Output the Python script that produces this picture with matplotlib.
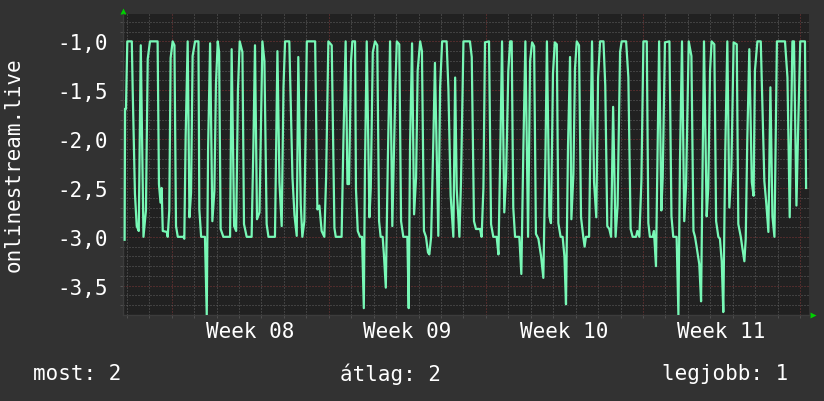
import matplotlib
matplotlib.use('Agg')
import matplotlib.pyplot as plt
import numpy as np

# rank history (shown negated), x = days since monday of week 08
days_a = [-2.10, -2.08, -2.04, -1.98, -1.78, -1.74, -1.64, -1.56, -1.47, -1.38,
          -1.26, -1.15, -1.07, -0.97, -0.63, -0.57, -0.50, -0.45, -0.40, -0.22,
          -0.18, -0.11, -0.05, 0.04, 0.12, 0.19, 0.27, 0.52, 0.56, 0.62,
          0.71, 0.79, 0.86, 0.93, 1.04, 1.19, 1.23, 1.31, 1.48, 1.56,
          1.62, 1.71, 1.81, 1.90, 1.97, 2.05, 2.11, 2.18, 2.30, 2.60,
          2.67, 2.78, 2.87, 2.95]
rank_a = [-3.03, -1.69, -1.69, -1.0, -1.0, -1.5, -2.56, -2.89, -2.94, -1.04,
          -3.0, -2.73, -1.18, -1.0, -1.0, -2.46, -2.65, -2.5, -2.94, -2.95,
          -3.0, -2.73, -1.17, -1.0, -1.04, -2.89, -3.0, -3.0, -3.02, -1.97,
          -1.0, -2.8, -2.55, -1.15, -1.0, -1.0, -2.72, -3.0, -3.0, -3.8,
          -2.1, -1.02, -2.84, -2.53, -1.44, -1.0, -1.11, -2.92, -3.0, -3.0,
          -1.08, -2.89, -2.94, -1.5]

days_b = [3.03, 3.15, 3.22, 3.34, 3.56, 3.64, 3.71, 3.80, 3.91, 4.04,
          4.13, 4.23, 4.31, 4.60, 4.71, 4.80, 4.90, 4.98, 5.05, 5.24,
          5.38, 5.47, 5.57, 5.64, 5.75, 5.82, 5.91, 6.02, 6.39, 6.49,
          6.58, 6.68, 6.80, 6.88, 6.98, 7.13, 7.25, 7.31, 7.57, 7.65,
          7.75, 7.83, 7.90, 7.99, 8.05]
rank_b = [-1.0, -1.11, -2.87, -3.0, -3.0, -2.05, -1.04, -2.82, -2.75, -1.0,
          -1.2, -2.87, -3.0, -3.0, -1.1, -2.44, -2.89, -1.47, -1.0, -1.0,
          -2.39, -2.78, -2.99, -1.16, -2.67, -3.0, -2.84, -1.0, -1.0, -2.72,
          -2.68, -2.94, -3.0, -2.39, -1.0, -1.04, -2.91, -3.0, -3.0, -2.02,
          -1.0, -2.46, -2.46, -1.2, -1.0]

days_c = [8.17, 8.21, 8.29, 8.39, 8.48, 8.56, 8.61, 8.69, 8.81, 8.87,
          8.96, 9.06, 9.16, 9.24, 9.31, 9.40, 9.46, 9.54, 9.63, 9.73,
          9.83, 9.97, 10.03, 10.14, 10.22, 10.32, 10.50, 10.56, 10.62, 10.71,
          10.80, 10.89, 10.96, 11.07, 11.15, 11.24, 11.33, 11.42, 11.48, 11.56,
          11.66, 11.73, 11.88, 11.96, 12.05, 12.25, 12.33, 12.43, 12.55, 12.63,
          12.70, 12.82, 12.89, 13.00]
rank_c = [-1.0, -2.51, -2.94, -3.0, -3.0, -3.73, -2.31, -1.0, -2.8, -2.5,
          -1.11, -1.0, -1.04, -2.84, -3.0, -3.0, -3.2, -3.52, -2.22, -1.0,
          -2.89, -1.44, -1.0, -1.03, -2.84, -3.0, -3.0, -3.73, -2.07, -1.02,
          -2.77, -2.39, -1.3, -1.0, -1.1, -2.94, -3.0, -3.16, -3.18, -3.0,
          -2.0, -1.22, -2.99, -1.47, -1.0, -1.0, -1.49, -2.58, -3.0, -1.37,
          -2.51, -3.0, -2.44, -1.0]

days_d = [13.29, 13.37, 13.47, 13.56, 13.74, 13.81, 13.89, 13.96, 14.14, 14.23,
          14.33, 14.48, 14.56, 14.65, 14.72, 14.82, 14.90, 15.00, 15.08, 15.15,
          15.22, 15.30, 15.49, 15.58, 15.67, 15.76, 15.88, 15.97, 16.06, 16.15,
          16.23, 16.34, 16.46, 16.56, 16.65, 16.72, 16.83, 16.90, 16.99, 17.07,
          17.16, 17.23, 17.33, 17.42, 17.50, 17.57, 17.66, 17.75, 17.81, 17.90,
          17.97, 18.05, 18.15, 18.24, 18.34]
rank_d = [-1.0, -1.16, -2.84, -2.92, -2.92, -3.0, -2.5, -1.01, -1.0, -2.87,
          -3.0, -3.0, -3.18, -2.02, -1.0, -2.75, -2.39, -1.3, -1.0, -1.0,
          -2.7, -3.0, -3.0, -3.38, -2.1, -1.0, -3.0, -1.2, -1.01, -1.05,
          -2.97, -3.02, -3.2, -3.42, -2.24, -1.0, -2.79, -2.86, -1.33, -1.01,
          -1.03, -2.86, -3.0, -3.0, -3.2, -3.69, -2.07, -1.16, -2.82, -2.36,
          -1.28, -1.0, -1.04, -2.8, -3.0]

days_e = [18.40, 18.46, 18.60, 18.66, 18.73, 18.82, 18.92, 19.00, 19.09, 19.24,
          19.32, 19.41, 19.50, 19.58, 19.67, 19.78, 19.87, 19.98, 20.05, 20.25,
          20.35, 20.45, 20.54, 20.69, 20.75, 20.84, 20.93, 21.02, 21.17, 21.24,
          21.31, 21.43, 21.49, 21.58, 21.72, 21.82, 21.88, 21.98, 22.18, 22.27,
          22.35, 22.50, 22.58, 22.65, 22.74, 22.84, 22.92, 23.04, 23.16, 23.25,
          23.32, 23.39, 23.51]
rank_e = [-3.1, -3.0, -3.0, -2.0, -1.0, -2.44, -2.8, -1.37, -1.0, -1.0,
          -1.45, -2.89, -2.92, -3.0, -1.67, -3.0, -2.68, -1.11, -1.0, -1.0,
          -1.37, -2.92, -3.0, -3.0, -2.94, -3.0, -2.43, -1.0, -1.0, -2.86,
          -3.0, -3.0, -2.94, -3.3, -1.0, -2.73, -2.39, -1.01, -1.0, -2.79,
          -3.0, -3.0, -3.8, -2.22, -1.0, -2.84, -2.48, -1.0, -1.15, -2.94,
          -3.0, -3.1, -3.28]

days_f = [23.59, 23.72, 23.84, 23.91, 23.99, 24.06, 24.18, 24.26, 24.36, 24.43,
          24.51, 24.58, 24.67, 24.76, 24.85, 24.94, 25.04, 25.18, 25.25, 25.36,
          25.44, 25.52, 25.58, 25.65, 25.74, 25.85, 25.93, 25.99, 26.10, 26.25,
          26.34, 26.41, 26.50, 26.59, 26.68, 26.77, 26.86, 26.97, 27.33, 27.44,
          27.54, 27.66, 27.73, 27.84, 27.93, 28.01, 28.22, 28.27]
rank_f = [-3.66, -1.0, -2.79, -2.5, -1.3, -1.0, -1.03, -2.84, -3.0, -3.02,
          -3.25, -3.77, -2.1, -1.0, -2.7, -2.31, -1.01, -1.03, -2.87, -3.0,
          -3.13, -3.25, -3.02, -2.0, -1.08, -2.44, -2.58, -1.3, -1.0, -1.0,
          -1.8, -2.43, -2.67, -2.95, -1.47, -2.79, -3.0, -1.0, -1.0, -1.37,
          -2.8, -1.0, -1.0, -2.68, -1.76, -1.0, -1.0, -2.5]

week_labels = ['Week 08', 'Week 09', 'Week 10', 'Week 11']
week_starts = [0, 7, 14, 21, 28]
legend_items = [('most', 2), ('átlag', 2), ('legjobb', 1)]
series_name = 'onlinestream.live'

BG = '#323232'
PLOT_BG = '#212121'
LINE = '#78f8b6'
FONT = 'DejaVu Sans Mono'


def main():
    days = np.concatenate([days_a, days_b, days_c, days_d, days_e, days_f])
    rank = np.concatenate([rank_a, rank_b, rank_c, rank_d, rank_e, rank_f])

    fig = plt.figure(figsize=(8.24, 4.02), dpi=100, facecolor=BG)
    ax = fig.add_axes([0.1496, 0.2139, 0.8322, 0.7495])
    ax.set_facecolor(PLOT_BG)
    ax.set_xlim(-2.16, 28.40)
    ax.set_ylim(-3.80, -0.717)

    # dotted grid, rrdtool style
    dots = (0, (1, 2))
    for d in range(-2, 29):
        major = d in week_starts
        ax.axvline(d, color='#803838' if major else '#626262', lw=0.72,
                   ls=dots, zorder=1)
    for y in np.arange(-3.7, -0.7, 0.1):
        major = abs(y * 2 - round(y * 2)) < 1e-6
        ax.axhline(y, color='#803838' if major else '#626262', lw=0.72,
                   ls=dots, zorder=1)

    ax.plot(days, rank, color=LINE, lw=1.6, zorder=3)

    # axes and ticks
    for s in ['top', 'right']:
        ax.spines[s].set_visible(False)
    for s in ['left', 'bottom']:
        ax.spines[s].set_color('#3c3c3c')
        ax.spines[s].set_linewidth(1)

    yt = [-3.5, -3.0, -2.5, -2.0, -1.5, -1.0]
    ax.set_yticks(yt)
    ax.set_yticklabels([f'{v:.1f}'.replace('.', ',') for v in yt])
    ax.set_yticks(np.arange(-3.7, -0.7, 0.1), minor=True)
    ax.set_xticks([w + 3.5 for w in week_starts[:4]])
    ax.set_xticklabels(week_labels)
    ax.set_xticks(range(-2, 29), minor=True)

    ax.tick_params(axis='both', which='both', colors='#555555',
                   labelcolor='white', labelsize=15)
    ax.tick_params(axis='x', which='major', length=0, pad=4)
    ax.tick_params(axis='x', which='minor', length=2)
    ax.tick_params(axis='y', which='major', length=2, pad=9)
    ax.tick_params(axis='y', which='minor', length=2)
    for lab in ax.get_xticklabels() + ax.get_yticklabels():
        lab.set_family(FONT)

    # little green arrows at the axis ends
    ax.plot([0], [1.01], marker='^', color='#00d000', ms=5, mec='none',
            transform=ax.transAxes, clip_on=False)
    ax.plot([1.006], [0], marker='>', color='#00d000', ms=5, mec='none',
            transform=ax.transAxes, clip_on=False)

    fig.text(14 / 824, 1 - 165 / 402, series_name, rotation=90, color='white',
             family=FONT, fontsize=15, ha='center', va='center')

    xs = [33, 340, 662]
    for x, (name, val) in zip(xs, legend_items):
        fig.text(x / 824, 1 - 374 / 402, f'{name}: {val}', color='white',
                 family=FONT, fontsize=15, ha='left', va='center')

    fig.savefig('out.png', dpi=100, facecolor=BG)


if __name__ == '__main__':
    main()
